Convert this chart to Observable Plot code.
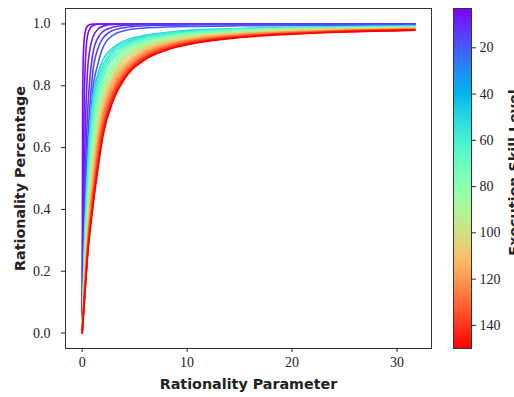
<!DOCTYPE html>
<html><head><meta charset="utf-8">
<script src="https://cdn.jsdelivr.net/npm/d3@7"></script>
<script src="https://cdn.jsdelivr.net/npm/@observablehq/plot@0.6"></script>
<style>
body{margin:0;background:#fff}
#wrap{position:relative;width:514px;height:397px;overflow:hidden}
#wrap svg{position:absolute;top:0;font-family:'Liberation Serif','DejaVu Serif',serif}
</style>
</head><body><div id="wrap"></div>
<script>
// Rationality parameter grids
const lambdaFine = [0, 0.05, 0.1, 0.2, 0.3, 0.5, 0.75, 1, 1.5, 2, 3, 4, 6, 8, 11, 15, 20, 25, 31.7];
const lambdaBand = [0, 0.25, 0.5, 1, 1.5, 2, 3, 4, 6, 8, 11, 15, 20, 25, 31.7];

// Execution skill levels (colour) of the separated low-skill curves
const sigmaSep = [3, 6, 9, 12, 16, 20];
const sep1 = [0, .75, .88, .95, .975, .993, .998, 1, 1, 1, 1, 1, 1, 1, 1, 1, 1, 1, 1];
const sep2 = [0, .28, .48, .76, .87, .96, .985, .994, .999, 1, 1, 1, 1, 1, 1, 1, 1, 1, 1];
const sep3 = [0, .16, .30, .52, .66, .84, .92, .955, .983, .993, .998, .999, 1, 1, 1, 1, 1, 1, 1];
const sep4 = [0, .11, .21, .38, .52, .70, .83, .90, .955, .976, .99, .995, .998, .999, .9993, .9995, .9996, .9997, .9997];
const sep5 = [0, .08, .16, .30, .42, .60, .74, .84, .92, .955, .98, .988, .994, .996, .997, .998, .9985, .999, .999];
const sep6 = [0, .06, .12, .23, .33, .50, .64, .78, .87, .925, .965, .978, .987, .99, .992, .994, .995, .996, .9965];
const sepCurves = [sep1, sep2, sep3, sep4, sep5, sep6];

// Execution skill levels of the dense band
const sigmaBand = [50, 55, 60, 65, 70, 75, 80, 85, 90, 95, 100, 105, 110, 115, 120, 125, 130, 135, 140, 145, 150];
const band050 = [0,.33,.53,.755,.838,.885,.924,.945,.963,.9725,.981,.9855,.989,.9915,.9933];
const band055 = [0,.305,.50,.73,.823,.868,.917,.938,.96,.97,.979,.9843,.988,.9905,.9925];
const band060 = [0,.285,.47,.71,.805,.855,.909,.932,.956,.967,.9765,.983,.987,.9893,.9918];
const band065 = [0,.265,.44,.685,.787,.842,.90,.926,.952,.964,.9745,.9818,.9858,.9886,.9912];
const band070 = [0,.253,.42,.66,.77,.83,.892,.92,.948,.961,.972,.98,.985,.9877,.9905];
const band075 = [0,.24,.40,.64,.755,.82,.885,.915,.945,.959,.97,.979,.984,.987,.9895];
const band080 = [0,.225,.385,.615,.74,.805,.873,.908,.94,.956,.968,.977,.983,.986,.989];
const band085 = [0,.21,.37,.59,.72,.79,.865,.903,.936,.953,.966,.9755,.982,.9853,.988];
const band090 = [0,.20,.35,.57,.71,.778,.855,.897,.932,.95,.964,.974,.981,.9845,.9876];
const band095 = [0,.19,.34,.55,.69,.766,.846,.891,.928,.947,.962,.972,.98,.9838,.987];
const band100 = [0,.18,.33,.53,.675,.755,.838,.885,.924,.945,.96,.971,.979,.983,.9863];
const band105 = [0,.171,.32,.51,.66,.742,.83,.877,.92,.941,.958,.969,.978,.982,.9856];
const band110 = [0,.164,.306,.50,.645,.73,.823,.868,.917,.938,.956,.968,.976,.9815,.985];
const band115 = [0,.156,.295,.48,.63,.72,.815,.862,.913,.935,.954,.966,.975,.98,.9843];
const band120 = [0,.15,.285,.47,.615,.71,.805,.855,.909,.932,.952,.965,.974,.9795,.9838];
const band125 = [0,.144,.276,.455,.60,.70,.795,.848,.905,.929,.95,.963,.973,.979,.983];
const band130 = [0,.139,.265,.44,.585,.685,.787,.842,.90,.926,.948,.962,.971,.978,.9825];
const band135 = [0,.133,.26,.43,.57,.67,.78,.835,.896,.923,.946,.96,.97,.977,.982];
const band140 = [0,.129,.253,.42,.55,.66,.77,.83,.892,.92,.943,.959,.969,.976,.981];
const band145 = [0,.124,.246,.41,.54,.65,.762,.825,.888,.917,.941,.957,.968,.975,.98];
const band150 = [0,.12,.24,.40,.53,.64,.755,.82,.885,.915,.939,.956,.967,.974,.98];
const bandCurves = [band050, band055, band060, band065, band070, band075, band080, band085, band090, band095,
  band100, band105, band110, band115, band120, band125, band130, band135, band140, band145, band150];

const xTicks = [0, 10, 20, 30];
const yTicks = [0, 0.2, 0.4, 0.6, 0.8, 1.0];
const cbTicks = [20, 40, 60, 80, 100, 120, 140];
const cbDomain = [3, 150];

// matplotlib "rainbow" colormap
const rainbow = t => {
  const r = Math.min(1, Math.abs(2 * t - 0.5));
  const g = Math.sin(Math.PI * t);
  const b = Math.cos(Math.PI * t / 2);
  return `rgb(${Math.round(r*255)},${Math.round(g*255)},${Math.round(b*255)})`;
};

const rows = [];
sepCurves.forEach((ys, k) => ys.forEach((y, i) => rows.push({x: lambdaFine[i], y, s: sigmaSep[k], k})));
bandCurves.forEach((ys, k) => ys.forEach((y, i) => rows.push({x: lambdaBand[i], y, s: sigmaBand[k], k: 100 + k})));

const serif = "Liberation Serif";
const sansB = "DejaVu Sans";

const main = Plot.plot({
  width: 440, height: 397,
  marginLeft: 65, marginRight: 9, marginTop: 8, marginBottom: 49,
  style: {fontSize: "14px", color: "#222", background: "transparent"},
  x: {domain: [-1.585, 33.285], label: null},
  y: {domain: [-0.05, 1.05], label: null},
  color: {type: "linear", domain: cbDomain, interpolate: rainbow},
  marks: [
    Plot.line(rows, {x: "x", y: "y", z: "k", stroke: "s", strokeWidth: 1.6, curve: "monotone-x"}),
    Plot.frame({stroke: "#333", strokeWidth: 1}),
    Plot.axisX(xTicks, {tickSize: 4, tickPadding: 5, fontSize: 14, fontFamily: serif, label: null, tickFormat: d => String(d)}),
    Plot.axisY(yTicks, {tickSize: 4, tickPadding: 11, fontSize: 14, fontFamily: serif, label: null, tickFormat: d3.format(".1f")}),
    Plot.text(["Rationality Parameter"], {frameAnchor: "bottom", textAnchor: "middle", dy: 40, fontFamily: sansB, fontWeight: "bold", fontSize: 14.3, fill: "#222"}),
    Plot.text(["Rationality Percentage"], {frameAnchor: "left", textAnchor: "middle", dx: -45, rotate: -90, fontFamily: sansB, fontWeight: "bold", fontSize: 14.3, fill: "#222"})
  ]
});
main.style.left = "0px";

const ramp = d3.range(cbDomain[0], cbDomain[1], 0.5);
const cbar = Plot.plot({
  width: 74, height: 397,
  marginLeft: 13, marginRight: 43, marginTop: 8, marginBottom: 49,
  style: {fontSize: "14px", color: "#222", background: "transparent", overflow: "hidden"},
  x: {domain: [0, 1], axis: null},
  y: {domain: cbDomain, reverse: true, label: null},
  color: {type: "linear", domain: cbDomain, interpolate: rainbow},
  marks: [
    Plot.rect(ramp, {x1: 0, x2: 1, y1: d => d, y2: d => Math.min(cbDomain[1], d + 1.5), fill: d => d + 0.25, inset: 0, shapeRendering: "crispEdges"}),
    Plot.frame({stroke: "#333", strokeWidth: 1}),
    Plot.axisY(cbTicks, {anchor: "right", tickSize: 4, tickPadding: 4, fontSize: 14, fontFamily: serif, label: null}),
    Plot.text(["Execution Skill Level"], {frameAnchor: "right", textAnchor: "middle", dx: 43, dy: -6, rotate: -90, fontFamily: sansB, fontWeight: "bold", fontSize: 14.3, fill: "#222"})
  ]
});
cbar.style.left = "440px";

document.getElementById("wrap").append(main, cbar);
</script>
</body></html>
